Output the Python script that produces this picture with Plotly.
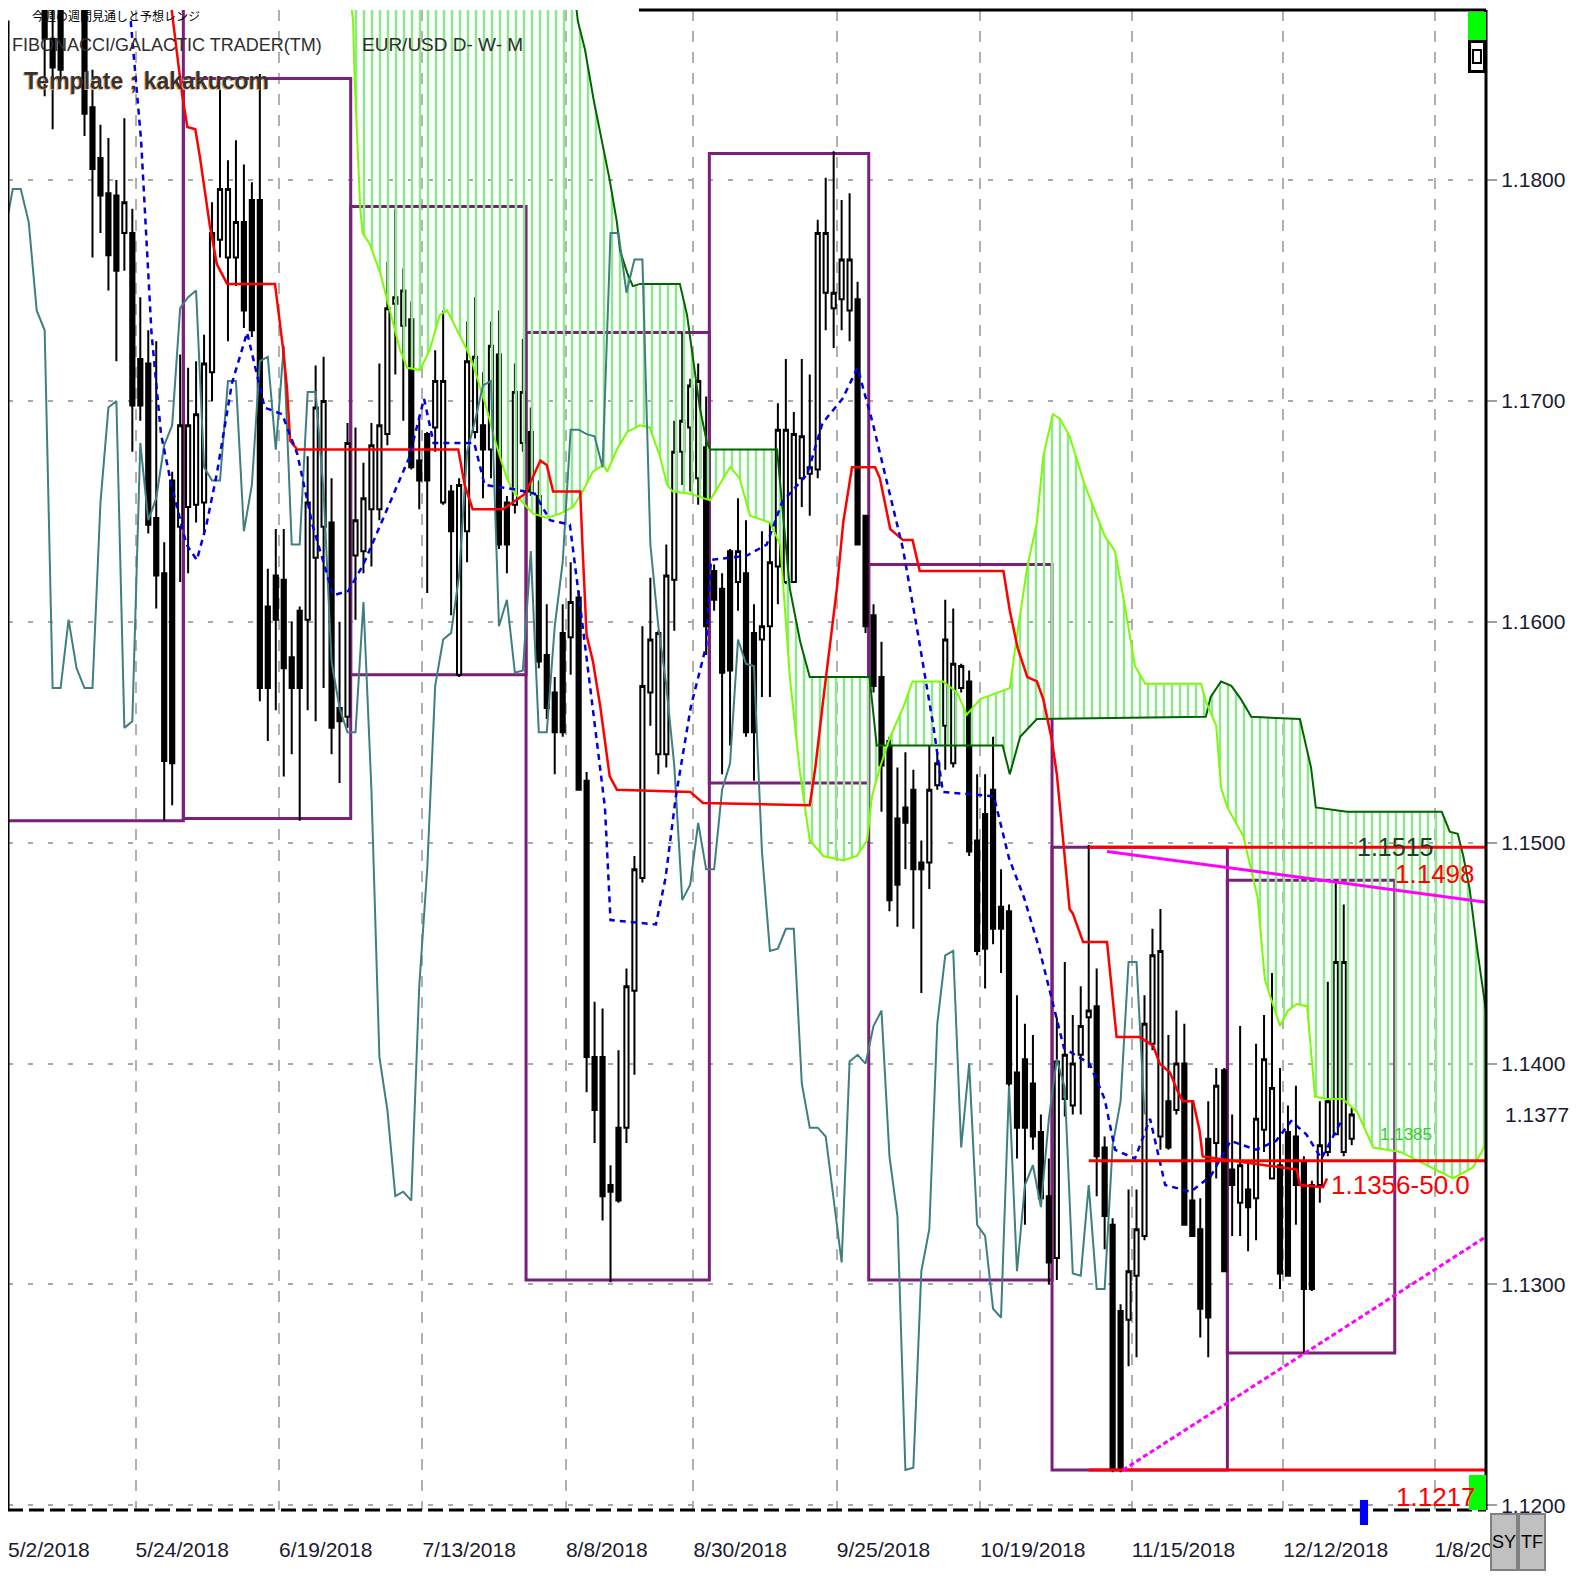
import plotly.graph_objects as go

# ---------------- data ----------------
date_labels = ["5/2/2018", "5/24/2018", "6/19/2018", "7/13/2018", "8/8/2018", "8/30/2018",
               "9/25/2018", "10/19/2018", "11/15/2018", "12/12/2018", "1/8/2019"]
date_label_bars = [0, 16, 34, 52, 70, 86, 104, 122, 141, 160, 179]
price_ticks = [1.12, 1.13, 1.14, 1.15, 1.16, 1.17, 1.18]

opens = [1.1990, 1.1951, 1.1988, 1.1960, 1.1923, 1.1864, 1.1925, 1.1930, 1.1942, 1.1925,
         1.1833, 1.1810, 1.1794, 1.1793, 1.1776, 1.1776, 1.1719, 1.1717, 1.1647, 1.1622,
         1.1664, 1.1643, 1.1652, 1.1653, 1.1654, 1.1713, 1.1773, 1.1765, 1.1765, 1.1781,
         1.1791, 1.1791, 1.1607, 1.1621, 1.1619, 1.1584, 1.1605, 1.1601, 1.1629, 1.1643,
         1.1645, 1.1561, 1.1557, 1.1630, 1.1632, 1.1651, 1.1651, 1.1685, 1.1744, 1.1734,
         1.1737, 1.1673, 1.1685, 1.1688, 1.1654, 1.1659, 1.1576, 1.1641, 1.1686, 1.1689,
         1.1678, 1.1721, 1.1654, 1.1653, 1.1681, 1.1686, 1.1657, 1.1585, 1.1568, 1.1595,
         1.1593, 1.1611, 1.1528, 1.1403, 1.1403, 1.1345, 1.1371, 1.1371, 1.1433, 1.1484,
         1.1568, 1.1540, 1.1540, 1.1619, 1.1677, 1.1688, 1.1665, 1.1679, 1.1623, 1.1615,
         1.1632, 1.1618, 1.1622, 1.1595, 1.1592, 1.1598, 1.1625, 1.1618, 1.1618, 1.1665,
         1.1667, 1.1669, 1.1749, 1.1742, 1.1746, 1.1741, 1.1746, 1.1648, 1.1603, 1.1575,
         1.1546, 1.1511, 1.1516, 1.1524, 1.1491, 1.1491, 1.1526, 1.1553, 1.1536, 1.1570,
         1.1573, 1.1501, 1.1513, 1.1524, 1.1471, 1.1469, 1.1396, 1.1402, 1.1391, 1.1369,
         1.1340, 1.1312, 1.1384, 1.1381, 1.1404, 1.1421, 1.1426, 1.1362, 1.1327, 1.1288,
         1.1284, 1.1304, 1.1322, 1.1409, 1.1367, 1.1383, 1.1379, 1.1400, 1.1338, 1.1325,
         1.1366, 1.1364, 1.1397, 1.1352, 1.1337, 1.1343, 1.1339, 1.1370, 1.1348, 1.1354,
         1.1369, 1.1367, 1.1355, 1.1345, 1.1345, 1.1360, 1.1368, 1.1360, 1.1366]
highs = [1.2021, 1.1998, 1.1995, 1.1966, 1.1935, 1.1895, 1.1940, 1.1955, 1.1996, 1.1930,
         1.1850, 1.1825, 1.1819, 1.1800, 1.1828, 1.1787, 1.1747, 1.1732, 1.1727, 1.1636,
         1.1668, 1.1721, 1.1715, 1.1718, 1.1730, 1.1790, 1.1841, 1.1809, 1.1818, 1.1807,
         1.1799, 1.1848, 1.1624, 1.1642, 1.1642, 1.1600, 1.1607, 1.1675, 1.1716, 1.1720,
         1.1665, 1.1600, 1.1690, 1.1688, 1.1672, 1.1690, 1.1717, 1.1763, 1.1787, 1.1760,
         1.1745, 1.1693, 1.1686, 1.1723, 1.1741, 1.1662, 1.1665, 1.1736, 1.1747, 1.1713,
         1.1736, 1.1741, 1.1657, 1.1717, 1.1728, 1.1697, 1.1664, 1.1608, 1.1575, 1.1608,
         1.1627, 1.1614, 1.1532, 1.1428, 1.1425, 1.1354, 1.1406, 1.1443, 1.1494, 1.1598,
         1.1620, 1.1596, 1.1635, 1.1691, 1.1731, 1.1710, 1.1717, 1.1702, 1.1626, 1.1622,
         1.1633, 1.1656, 1.1646, 1.1608, 1.1641, 1.1645, 1.1699, 1.1719, 1.1695, 1.1719,
         1.1712, 1.1782, 1.1801, 1.1813, 1.1791, 1.1794, 1.1754, 1.1648, 1.1608, 1.1591,
         1.1548, 1.1534, 1.1541, 1.1533, 1.1501, 1.1544, 1.1541, 1.1610, 1.1606, 1.1581,
         1.1578, 1.1531, 1.1531, 1.1548, 1.1488, 1.1472, 1.1431, 1.1418, 1.1413, 1.1377,
         1.1357, 1.1421, 1.1446, 1.1422, 1.1435, 1.1499, 1.1443, 1.1367, 1.1330, 1.1291,
         1.1343, 1.1343, 1.1431, 1.1461, 1.1470, 1.1413, 1.1424, 1.1418, 1.1383, 1.1339,
         1.1383, 1.1398, 1.1398, 1.1377, 1.1417, 1.1356, 1.1409, 1.1422, 1.1441, 1.1398,
         1.1381, 1.1390, 1.1358, 1.1347, 1.1383, 1.1437, 1.1483, 1.1472, 1.1380]
lows = [1.1938, 1.1946, 1.1911, 1.1896, 1.1838, 1.1823, 1.1845, 1.1905, 1.1912, 1.1820,
        1.1765, 1.1776, 1.1750, 1.1718, 1.1759, 1.1677, 1.1691, 1.1640, 1.1606, 1.1510,
        1.1517, 1.1618, 1.1622, 1.1645, 1.1640, 1.1700, 1.1765, 1.1727, 1.1752, 1.1733,
        1.1729, 1.1564, 1.1546, 1.1560, 1.1530, 1.1540, 1.1510, 1.1560, 1.1555, 1.1570,
        1.1540, 1.1527, 1.1552, 1.1601, 1.1622, 1.1625, 1.1646, 1.1680, 1.1712, 1.1691,
        1.1669, 1.1651, 1.1613, 1.1677, 1.1653, 1.1603, 1.1575, 1.1627, 1.1683, 1.1656,
        1.1665, 1.1633, 1.1622, 1.1649, 1.1677, 1.1657, 1.1579, 1.1556, 1.1531, 1.1548,
        1.1576, 1.1524, 1.1387, 1.1364, 1.1329, 1.1301, 1.1337, 1.1364, 1.1395, 1.1482,
        1.1553, 1.1531, 1.1534, 1.1596, 1.1662, 1.1659, 1.1653, 1.1585, 1.1605, 1.1531,
        1.1544, 1.1605, 1.1548, 1.1528, 1.1566, 1.1566, 1.1608, 1.1617, 1.1618, 1.1652,
        1.1648, 1.1665, 1.1732, 1.1724, 1.1732, 1.1727, 1.1635, 1.1595, 1.1568, 1.1514,
        1.1469, 1.1462, 1.1488, 1.1461, 1.1432, 1.1479, 1.1524, 1.1533, 1.1534, 1.1568,
        1.1494, 1.1449, 1.1434, 1.1454, 1.1441, 1.1381, 1.1357, 1.1327, 1.1361, 1.1337,
        1.1300, 1.1302, 1.1376, 1.1377, 1.1377, 1.1398, 1.1340, 1.1316, 1.1215, 1.1215,
        1.1263, 1.1267, 1.1320, 1.1406, 1.1361, 1.1361, 1.1377, 1.1327, 1.1322, 1.1276,
        1.1267, 1.1348, 1.1306, 1.1322, 1.1322, 1.1315, 1.1320, 1.1360, 1.1348, 1.1298,
        1.1304, 1.1327, 1.1269, 1.1297, 1.1337, 1.1358, 1.1368, 1.1358, 1.1363]
closes = [1.1951, 1.1988, 1.1960, 1.1923, 1.1864, 1.1851, 1.1850, 1.1942, 1.1925, 1.1830,
          1.1805, 1.1793, 1.1766, 1.1759, 1.1790, 1.1698, 1.1698, 1.1644, 1.1621, 1.1537,
          1.1536, 1.1689, 1.1689, 1.1694, 1.1717, 1.1776, 1.1796, 1.1796, 1.1781, 1.1741,
          1.1732, 1.1570, 1.1570, 1.1601, 1.1579, 1.1570, 1.1570, 1.1654, 1.1697, 1.1700,
          1.1552, 1.1555, 1.1681, 1.1646, 1.1656, 1.1680, 1.1689, 1.1742, 1.1747, 1.1750,
          1.1670, 1.1664, 1.1664, 1.1709, 1.1709, 1.1641, 1.1662, 1.1718, 1.1720, 1.1678,
          1.1725, 1.1635, 1.1635, 1.1704, 1.1704, 1.1659, 1.1582, 1.1561, 1.1550, 1.1550,
          1.1609, 1.1524, 1.1403, 1.1379, 1.1340, 1.1342, 1.1338, 1.1435, 1.1488, 1.1571,
          1.1592, 1.1595, 1.1621, 1.1677, 1.1691, 1.1707, 1.1709, 1.1598, 1.1610, 1.1577,
          1.1578, 1.1632, 1.1550, 1.1550, 1.1598, 1.1627, 1.1687, 1.1687, 1.1685, 1.1684,
          1.1670, 1.1776, 1.1776, 1.1749, 1.1764, 1.1764, 1.1635, 1.1598, 1.1571, 1.1535,
          1.1474, 1.1481, 1.1509, 1.1488, 1.1488, 1.1524, 1.1536, 1.1592, 1.1581, 1.1580,
          1.1496, 1.1451, 1.1452, 1.1461, 1.1461, 1.1391, 1.1371, 1.1371, 1.1367, 1.1339,
          1.1310, 1.1401, 1.1404, 1.1400, 1.1417, 1.1424, 1.1358, 1.1331, 1.1216, 1.1217,
          1.1306, 1.1325, 1.1418, 1.1449, 1.1451, 1.1362, 1.1400, 1.1327, 1.1322, 1.1289,
          1.1285, 1.1390, 1.1306, 1.1345, 1.1354, 1.1335, 1.1375, 1.1402, 1.1389, 1.1305,
          1.1304, 1.1345, 1.1298, 1.1298, 1.1363, 1.1383, 1.1446, 1.1446, 1.1377]
bars = list(range(len(closes)))
chikou_shift = 26

kijun_x = [19.5, 21.2, 21.9, 22.9, 23.5, 24.7, 25.6, 26.9, 32.9, 33.9, 34.4, 34.8, 35.7, 55.9,
           56.7, 57.7, 61.5, 64.3, 66.2, 67.0, 67.8, 71.2, 71.5, 72.0, 72.8, 73.7, 74.9, 75.8,
           85.0, 86.6, 100.0, 100.7, 101.7, 102.5, 103.4, 104.2, 105.3, 108.2, 108.8, 110.1,
           111.7, 112.9, 113.8, 124.3, 125.1, 126.1, 127.3, 128.5, 129.3, 130.4, 131.0, 131.8,
           132.6, 133.0, 134.3, 137.3, 138.0, 138.5, 141.4, 143.1, 143.9, 145.2, 146.1, 146.8,
           148.1, 148.9, 149.3, 161.1, 161.5, 164.4, 164.9]
kijun_y = [1.1890, 1.1840, 1.1824, 1.1823, 1.1810, 1.1780, 1.1762, 1.1753, 1.1753, 1.1724,
           1.1706, 1.1682, 1.1678, 1.1678, 1.1662, 1.1651, 1.1651, 1.1658, 1.1673, 1.1671,
           1.1659, 1.1659, 1.1633, 1.1594, 1.1582, 1.1562, 1.1530, 1.1524, 1.1523, 1.1518,
           1.1517, 1.1534, 1.1565, 1.1588, 1.1615, 1.1645, 1.1670, 1.1670, 1.1665, 1.1642,
           1.1637, 1.1637, 1.1623, 1.1623, 1.1605, 1.1588, 1.1575, 1.1573, 1.1565, 1.1546,
           1.1531, 1.1501, 1.1470, 1.1468, 1.1455, 1.1455, 1.1430, 1.1412, 1.1412, 1.1408,
           1.1400, 1.1396, 1.1388, 1.1383, 1.1383, 1.1370, 1.1358, 1.1352, 1.1345, 1.1344,
           1.1348]

tenkan_x = [14.8, 16.1, 17.4, 18.6, 19.9, 21.8, 23.1, 24.3, 25.6, 27.5, 29.4, 31.6, 33.8, 35.7,
            37.6, 40.2, 42.1, 44.0, 45.9, 47.8, 49.7, 51.6, 52.8, 57.9, 59.2, 62.9, 65.5, 67.4,
            69.9, 71.2, 73.1, 74.3, 75.0, 80.7, 81.9, 83.2, 85.1, 87.0, 87.6, 92.1, 94.6, 96.5,
            99.7, 101.6, 104.1, 106.0, 107.9, 109.8, 111.7, 113.6, 115.5, 116.7, 123.1, 125.0,
            126.9, 128.8, 130.7, 131.9, 135.1, 137.0, 138.3, 140.8, 142.7, 144.6, 147.8, 150.3,
            152.8, 156.0, 158.5, 160.4, 162.3, 164.2, 166.7]
tenkan_y = [1.1872, 1.1818, 1.1731, 1.1685, 1.1662, 1.1635, 1.1628, 1.1644, 1.1667, 1.1708,
            1.1731, 1.1697, 1.1694, 1.1676, 1.1644, 1.1612, 1.1614, 1.1626, 1.1642, 1.1658,
            1.1674, 1.1701, 1.1681, 1.1681, 1.1662, 1.1660, 1.1658, 1.1646, 1.1644, 1.1607,
            1.1552, 1.1516, 1.1465, 1.1463, 1.1484, 1.1521, 1.1562, 1.1589, 1.1628, 1.1630,
            1.1635, 1.1654, 1.1667, 1.1690, 1.1701, 1.1715, 1.1690, 1.1662, 1.1633, 1.1594,
            1.1553, 1.1523, 1.1521, 1.1493, 1.1475, 1.1452, 1.1425, 1.1407, 1.1400, 1.1384,
            1.1361, 1.1357, 1.1375, 1.1345, 1.1342, 1.1349, 1.1365, 1.1361, 1.1365, 1.1374,
            1.1368, 1.1357, 1.1374]

spanA_x = [41.7, 42.7, 42.9, 43.6, 43.9, 44.8, 46.1, 47.7, 48.6, 49.5, 51.1, 52.3, 53.6, 54.5,
           55.2, 56.1, 57.0, 57.7, 58.6, 59.5, 60.3, 61.1, 62.0, 62.8, 64.5, 65.3, 67.0, 68.7,
           70.3, 71.5, 72.8, 74.1, 74.6, 75.8, 77.1, 78.7, 79.9, 81.2, 82.1, 82.8, 85.0, 87.5,
           90.0, 91.2, 92.5, 95.0, 96.3, 97.5, 98.8, 100.0, 101.7, 104.2, 105.9, 107.2, 107.8,
           108.8, 110.1, 111.7, 112.9, 116.7, 118.5, 119.7, 121.4, 125.1, 126.0, 127.3, 128.5,
           129.3, 130.5, 131.4, 132.6, 134.5, 137.0, 138.3, 139.5, 140.8, 142.1, 149.1, 149.7,
           151.0, 151.6, 152.4, 154.4, 156.2, 157.1, 159.0, 160.0, 161.1, 162.4, 163.4, 164.9,
           166.9, 168.7, 170.7, 172.4, 174.1, 180.7, 183.2, 184.9]
spanA_y = [1.1904, 1.1872, 1.1845, 1.1787, 1.1776, 1.1771, 1.1758, 1.1736, 1.1723, 1.1715,
           1.1714, 1.1723, 1.1739, 1.1741, 1.1736, 1.1729, 1.1723, 1.1717, 1.1707, 1.1696,
           1.1685, 1.1675, 1.1665, 1.1659, 1.1652, 1.1649, 1.1647, 1.1649, 1.1652, 1.1659,
           1.1668, 1.1671, 1.1668, 1.1678, 1.1686, 1.1689, 1.1688, 1.1675, 1.1662, 1.1659,
           1.1658, 1.1655, 1.1670, 1.1665, 1.1648, 1.1645, 1.1635, 1.1575, 1.1531, 1.1501,
           1.1494, 1.1492, 1.1494, 1.1501, 1.1521, 1.1534, 1.1548, 1.1561, 1.1573, 1.1573,
           1.1568, 1.1558, 1.1565, 1.1570, 1.1594, 1.1625, 1.1645, 1.1675, 1.1694, 1.1692,
           1.1684, 1.1662, 1.1639, 1.1632, 1.1608, 1.1580, 1.1572, 1.1572, 1.1564, 1.1553,
           1.1525, 1.1516, 1.1503, 1.1475, 1.1438, 1.1417, 1.1424, 1.1427, 1.1426, 1.1385,
           1.1384, 1.1384, 1.1378, 1.1362, 1.1361, 1.1360, 1.1348, 1.1353, 1.1364]

spanB_x = [41.7, 69.9, 70.9, 71.8, 72.9, 74.9, 75.8, 76.2, 77.1, 77.8, 78.7, 83.7, 84.6, 85.4,
           86.2, 87.1, 87.5, 95.9, 97.5, 98.8, 100.0, 107.5, 108.4, 124.2, 125.1, 126.4, 128.5,
           149.7, 150.3, 151.6, 152.9, 154.1, 155.4, 161.5, 162.9, 163.5, 167.4, 179.3, 180.3,
           181.3, 182.0, 182.8, 183.7, 185.0]
spanB_y = [1.1904, 1.1904, 1.1872, 1.1859, 1.1836, 1.1800, 1.1781, 1.1768, 1.1758, 1.1752,
           1.1753, 1.1753, 1.1739, 1.1717, 1.1697, 1.1681, 1.1678, 1.1678, 1.1615, 1.1591,
           1.1575, 1.1575, 1.1544, 1.1544, 1.1531, 1.1548, 1.1556, 1.1557, 1.1566, 1.1573,
           1.1571, 1.1565, 1.1557, 1.1556, 1.1534, 1.1516, 1.1514, 1.1514, 1.1505, 1.1504,
           1.1494, 1.1479, 1.1453, 1.1420]

# monthly range boxes (May .. Dec), first bar of each month (+ Jan)
month_first_bar = [-40, 22, 43, 65, 88, 108, 131, 153, 174]
month_high = [1.2082, 1.1846, 1.1788, 1.1731, 1.1812, 1.1626, 1.1498, 1.1483]
month_low = [1.1510, 1.1511, 1.1576, 1.1302, 1.1527, 1.1302, 1.1216, 1.1269]

level_values = [1.1498, 1.1356, 1.1216]
level_start_bar = 135
fan_x = [137.3, 185.0]
fan_y = [1.1496, 1.1473]
trend_x = [139.3, 185.0]
trend_y = [1.1216, 1.1322]

label_texts = ["1.1515", "1.1498", "1.1385", "1.1356-50.0", "1.1217"]
label_x = [173.4, 178.4, 174.8, 174.1, 178.6]
label_y = [1.1498, 1.1486, 1.1368, 1.1345, 1.1204]
label_colors = ["#1f3d1f", "#ff0000", "#33cc33", "#ff0000", "#ff0000"]
label_sizes = [25, 26, 17, 26, 26]

# ---------------- figure ----------------
FONT = "Liberation Sans, Arial, sans-serif"
BAR_EDGE = 0.6
X_RANGE = [-0.6, 184.85]
Y_RANGE = [1.11979, 1.18770]

fig = go.Figure()

# Ichimoku cloud
fig.add_trace(go.Scatter(x=spanB_x, y=spanB_y, mode="lines",
                         line=dict(color="#006400", width=2), hoverinfo="skip"))
fig.add_trace(go.Scatter(x=spanA_x, y=spanA_y, mode="lines",
                         line=dict(color="#7CFC00", width=2), fill="tonexty",
                         fillcolor="rgba(0,0,0,0)",
                         fillpattern=dict(shape="|", fgcolor="#8ee88e", bgcolor="rgba(255,255,255,0)",
                                          size=8, solidity=0.32, fillmode="replace"),
                         hoverinfo="skip"))

# Chikou span
fig.add_trace(go.Scatter(x=[b - chikou_shift for b in bars], y=closes, mode="lines",
                         line=dict(color="#3f7f7f", width=2), hoverinfo="skip"))
# Kijun / Tenkan
fig.add_trace(go.Scatter(x=kijun_x, y=kijun_y, mode="lines",
                         line=dict(color="#ff0000", width=2.5), hoverinfo="skip"))
fig.add_trace(go.Scatter(x=tenkan_x, y=tenkan_y, mode="lines",
                         line=dict(color="#0000dd", width=2.5, dash="6px,5px"), hoverinfo="skip"))

# Candles
fig.add_trace(go.Candlestick(x=bars, open=opens, high=highs, low=lows, close=closes,
                             increasing=dict(line=dict(color="black", width=2), fillcolor="white"),
                             decreasing=dict(line=dict(color="black", width=2), fillcolor="black"),
                             whiskerwidth=0, hoverinfo="skip"))

# horizontal levels and fan lines
for lv in level_values:
    fig.add_trace(go.Scatter(x=[level_start_bar, X_RANGE[1]], y=[lv, lv], mode="lines",
                             line=dict(color="#ff0000", width=3), hoverinfo="skip"))
fig.add_trace(go.Scatter(x=fan_x, y=fan_y, mode="lines",
                         line=dict(color="#ff00ff", width=3), hoverinfo="skip"))
fig.add_trace(go.Scatter(x=trend_x, y=trend_y, mode="lines",
                         line=dict(color="#ff00ff", width=3, dash="5px,3px"), hoverinfo="skip"))

shapes = []
# monthly boxes
for k in range(len(month_high)):
    shapes.append(dict(type="rect", xref="x", yref="y",
                       x0=month_first_bar[k] - BAR_EDGE, x1=month_first_bar[k + 1] - BAR_EDGE,
                       y0=month_low[k], y1=month_high[k],
                       line=dict(color="#7a1f7a", width=3), layer="between"))

# frame pieces
shapes += [
    dict(type="line", xref="paper", yref="paper", x0=0.0, x1=1.0, y0=0, y1=0,
         line=dict(color="black", width=3, dash="15px,6px")),
    dict(type="line", xref="x", yref="paper", x0=-BAR_EDGE, x1=-BAR_EDGE, y0=0, y1=0.993,
         line=dict(color="black", width=3)),
    dict(type="line", xref="paper", yref="paper", x0=1.0, x1=1.0, y0=0, y1=1.0,
         line=dict(color="black", width=3)),
    dict(type="line", xref="paper", yref="paper", x0=0.4269, x1=1.0, y0=1.0, y1=1.0,
         line=dict(color="black", width=3)),
    dict(type="rect", xref="paper", yref="paper", x0=0.9878, x1=1.0, y0=0.98, y1=0.9987,
         fillcolor="#00ff00", line=dict(width=0)),
    dict(type="rect", xref="paper", yref="paper", x0=0.9878, x1=1.0, y0=0.958, y1=0.98,
         fillcolor="black", line=dict(width=0)),
    dict(type="rect", xref="paper", yref="paper", x0=0.9899, x1=0.998, y0=0.96, y1=0.978,
         fillcolor="white", line=dict(width=0)),
    dict(type="rect", xref="paper", yref="paper", x0=0.9912, x1=0.9966, y0=0.9647, y1=0.9733,
         fillcolor="white", line=dict(color="black", width=2)),
    dict(type="rect", xref="paper", yref="paper", x0=0.9885, x1=1.0, y0=0.0, y1=0.0233,
         fillcolor="#00ff00", line=dict(width=0)),
    dict(type="rect", xref="paper", yref="paper", x0=0.9147, x1=0.9202, y0=-0.01, y1=0.0067,
         fillcolor="#0000ff", line=dict(width=0)),
]

annotations = []
for txt, lx, ly, col, sz in zip(label_texts, label_x, label_y, label_colors, label_sizes):
    annotations.append(dict(x=lx, y=ly, xref="x", yref="y", text=txt, showarrow=False,
                            xanchor="center", yanchor="middle",
                            font=dict(family=FONT, size=sz, color=col)))

annotations += [
    dict(x=0.0149, y=0.9965, xref="paper", yref="paper", xanchor="left", yanchor="middle",
         text="今週の週間見通しと予想レンジ", showarrow=False,
         font=dict(family="Noto Sans CJK JP", size=12, color="black")),
    dict(x=0.0014, y=0.9767, xref="paper", yref="paper", xanchor="left", yanchor="middle",
         text="FIBONACCI/GALACTIC TRADER(TM)", showarrow=False,
         font=dict(family=FONT, size=18, color="#2e2e2e")),
    dict(x=0.2382, y=0.9767, xref="paper", yref="paper", xanchor="left", yanchor="middle",
         text="EUR/USD D- W- M", showarrow=False,
         font=dict(family=FONT, size=19, color="#2e2e2e")),
    dict(x=0.0095, y=0.9527, xref="paper", yref="paper", xanchor="left", yanchor="middle",
         text="<b>Template ; kakakucom</b>", showarrow=False,
         font=dict(family=FONT, size=23, color="#333333", shadow="-1px 1px 0px #f0b070")),
    dict(x=1.0115, y=closes[-1], xref="paper", yref="y", xanchor="left", yanchor="middle",
         text=f"{closes[-1]:.4f}", showarrow=False,
         font=dict(family=FONT, size=21, color="#1a1a2e")),
    dict(x=1.0122, y=-0.0213, xref="paper", yref="paper", xanchor="center", yanchor="middle",
         text="SY", showarrow=False,
         width=24, height=54, bgcolor="#c0c0c0", bordercolor="#808080", borderwidth=2, borderpad=0,
         font=dict(family=FONT, size=18, color="black")),
    dict(x=1.0311, y=-0.0213, xref="paper", yref="paper", xanchor="center", yanchor="middle",
         text="TF", showarrow=False,
         width=24, height=54, bgcolor="#c0c0c0", bordercolor="#808080", borderwidth=2, borderpad=0,
         font=dict(family=FONT, size=18, color="black")),
]

fig.update_layout(
    width=1574, height=1574, autosize=False,
    margin=dict(l=0, r=96, t=2, b=72),
    paper_bgcolor="white", plot_bgcolor="white",
    showlegend=False, boxgap=0.3, boxgroupgap=0.25,
    shapes=shapes, annotations=annotations,
    xaxis=dict(range=X_RANGE, rangeslider=dict(visible=False),
               tickmode="array", tickvals=[b - BAR_EDGE for b in date_label_bars], ticktext=date_labels,
               showgrid=True, gridcolor="#b0b0b0", gridwidth=2, griddash="11px,10px",
               ticks="", ticklabelposition="outside right", ticklabelstandoff=25,
               tickfont=dict(family=FONT, size=21, color="#1a1a2e"),
               zeroline=False, showline=False, fixedrange=True),
    yaxis=dict(range=Y_RANGE, side="right", tickmode="array", tickvals=price_ticks,
               ticktext=[f"{p:.4f}" for p in price_ticks],
               showgrid=True, gridcolor="#a8a8a8", gridwidth=2, griddash="5px,15px",
               ticks="outside", ticklen=10, tickwidth=2, tickcolor="#a0a0a0",
               tickfont=dict(family=FONT, size=21, color="#1a1a2e"),
               zeroline=False, showline=False, fixedrange=True),
)

fig.write_html("out.html")
